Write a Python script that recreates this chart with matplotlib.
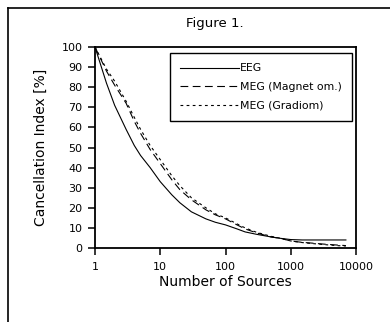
import matplotlib
matplotlib.use("Agg")
import matplotlib.pyplot as plt
from matplotlib.lines import Line2D

# data
n_sources = [1, 1.5, 2, 3, 4, 5, 7, 10, 15, 20, 30, 50, 70, 100, 150, 200,
             300, 500, 700, 1000, 1500, 2000, 3000, 5000, 7000]
eeg = [100, 82, 71, 59, 51, 46, 40, 33, 26.5, 22.5, 18, 14.5, 12.8, 11.5, 9.5,
       8, 6.8, 5.5, 4.8, 4.2, 4, 4, 4, 4, 4]
meg_magnetom = [100, 88, 81, 72, 63, 57, 49, 42, 34, 29, 24, 19, 16.5, 14.5,
                11.5, 9.5, 7.5, 5.5, 4.8, 3.5, 2.8, 2.5, 2, 1.5, 1.2]
meg_gradiom = [100, 89, 83, 73, 65, 59, 51, 44, 36, 31, 25, 20, 17, 15, 12,
               10, 7.8, 5.8, 4.8, 3.5, 2.7, 2.3, 1.8, 1.2, 1.0]

labels = ["EEG", "MEG (Magnet om.)", "MEG (Gradiom)"]
x_ticks = [1, 10, 100, 1000, 10000]
y_ticks = list(range(0, 101, 10))

plt.rcParams['font.family'] = ['DejaVu Sans']

fig = plt.figure(figsize=(3.9, 3.22), dpi=100)
ax = fig.add_axes([95/390, 1-248/322, 261/390, 201/322])

ax.plot(n_sources, eeg, color='black', lw=0.8, ls='-', label=labels[0])
ax.plot(n_sources, meg_magnetom, color='black', lw=0.8, ls=(0, (7, 4)), label=labels[1])
ax.plot(n_sources, meg_gradiom, color='black', lw=0.8, ls=(0, (2.5, 3)), label=labels[2])

ax.set_xscale('log')
ax.set_xlim(1, 10000)
ax.set_ylim(0, 100)
ax.set_xticks(x_ticks)
ax.set_xticklabels([str(v) for v in x_ticks])
ax.xaxis.set_minor_locator(matplotlib.ticker.NullLocator())
ax.set_yticks(y_ticks)
ax.tick_params(direction='out', length=5, width=1.1, labelsize=8)
ax.tick_params(axis='y', pad=4)
ax.tick_params(axis='x', pad=5)
for s in ax.spines.values():
    s.set_linewidth(1.3)

ax.set_xlabel("Number of Sources", fontsize=10, labelpad=2)
ax.set_ylabel("Cancellation Index [%]", fontsize=10, labelpad=10)
fig.text(0.551, 1-23/322, "Figure 1.", ha='center', va='center', fontsize=9.5)

leg = ax.legend(loc='upper right', bbox_to_anchor=(0.985, 0.97), borderaxespad=0,
                fontsize=7.8, handlelength=5.4, handletextpad=0.1,
                labelspacing=0.8, borderpad=0.95, fancybox=False, framealpha=1)
leg.get_frame().set_edgecolor('black')
leg.get_frame().set_linewidth(1.0)

# outer frame (top and left edges only visible)
fig.add_artist(Line2D([8/390, 1], [1-8/322, 1-8/322], color='black', lw=1.2,
                      transform=fig.transFigure))
fig.add_artist(Line2D([8/390, 8/390], [0, 1-8/322], color='black', lw=1.2,
                      transform=fig.transFigure))

fig.savefig("out.png", dpi=100)
